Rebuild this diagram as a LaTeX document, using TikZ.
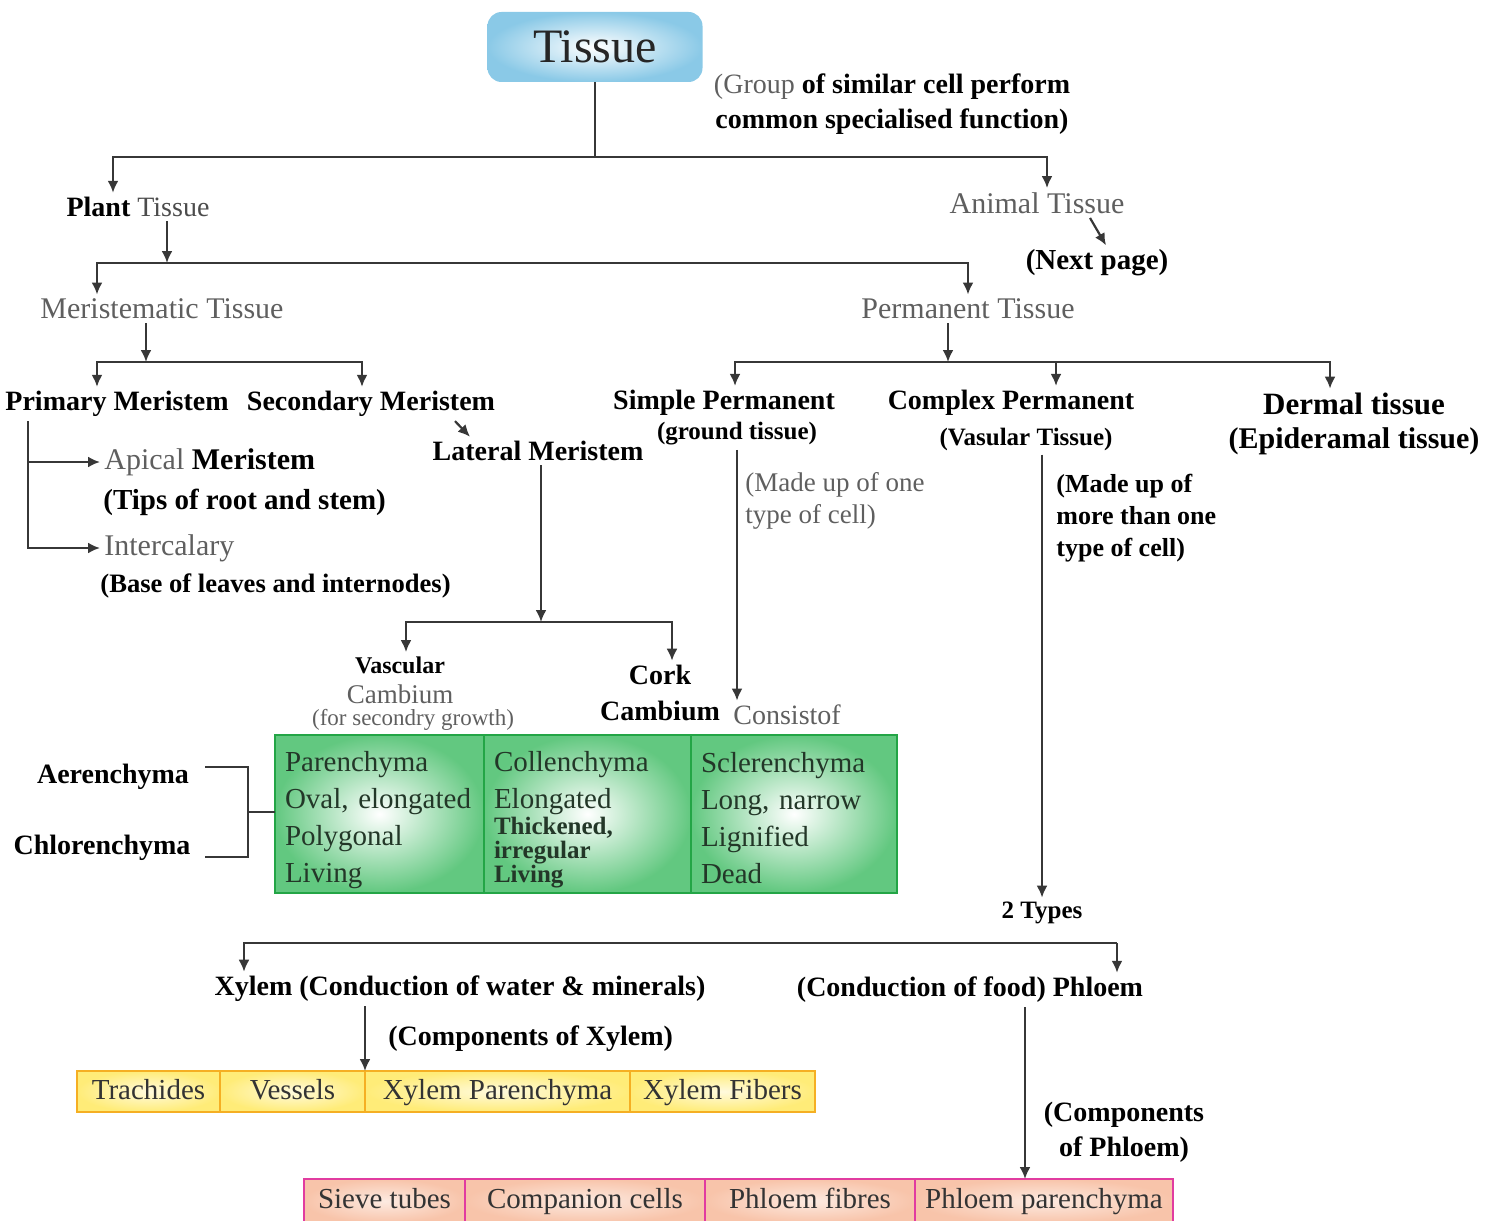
\documentclass[tikz,border=0pt]{standalone}
\usepackage{fontspec}
\setmainfont{Liberation Serif}
\usetikzlibrary{arrows.meta,positioning}
\definecolor{txtgray}{RGB}{95,95,95}
\definecolor{linegray}{RGB}{55,55,55}
\definecolor{tblue}{RGB}{125,195,228}
\definecolor{ggreen}{RGB}{70,190,105}
\definecolor{gborder}{RGB}{35,165,70}
\definecolor{gtext}{RGB}{35,55,40}
\definecolor{yfill}{RGB}{255,236,120}
\definecolor{yborder}{RGB}{245,175,35}
\definecolor{pfill}{RGB}{248,196,170}
\definecolor{pborder}{RGB}{225,60,160}
\tikzset{
  lbl/.style={font=\fontsize{14}{17}\selectfont\bfseries, inner sep=2pt},
  gry/.style={font=\fontsize{15}{18}\selectfont, text=txtgray, inner sep=2pt},
  conn/.style={draw=linegray, line width=1.1pt},
  arr/.style={conn, -{Latex[length=6pt,width=5.5pt]}},
  tbox/.style={rounded corners=7pt, inner color=white, outer color=tblue!90, minimum width=107.5pt, minimum height=35pt, font=\fontsize{24}{28}\selectfont, text=black!85},
  gcell/.style={draw=gborder, line width=1.2pt, inner color=white, outer color=ggreen!85, minimum height=79pt, inner xsep=5pt, inner ysep=0pt, outer sep=0pt, align=left, text=gtext, font=\fontsize{14.5}{18.5}\selectfont, anchor=north west},
  ycell/.style={draw=yborder, line width=1pt, inner color=yfill!25, outer color=yfill, minimum height=20.5pt, inner sep=0pt, outer sep=0pt, text height=10.5pt, text depth=3pt, font=\fontsize{14.5}{17}\selectfont, text=black!80},
  pcell/.style={draw=pborder, line width=1.2pt, inner color=pfill!35, outer color=pfill, minimum height=22pt, inner sep=0pt, outer sep=0pt, text height=10.5pt, text depth=3pt, font=\fontsize{14.5}{17}\selectfont, text=black!80}
}
\newcommand{\cellgap}{\rule{0pt}{16pt}}
\newcommand{\cellend}{\rule[-2pt]{0pt}{2pt}}
\begin{document}
\begin{tikzpicture}[x=0.5pt,y=-0.5pt]
\useasboundingbox (0,0) rectangle (1491,1220); % 画布
% 顶部
\node[tbox] (tissue) at (595,47) {Tissue};
\node[lbl, align=center, font=\fontsize{14}{17.5}\selectfont\bfseries] (grp) at (892,104) {{\mdseries\color{txtgray}(Group} of similar cell perform\\common specialised function)};
\coordinate (t1) at (595,157);
\draw[conn] (tissue.south) -- (t1);
\node[lbl] (plant) at (138,207) {Plant {\mdseries\color{black!70}Tissue}};
\node[gry] (animal) at (1037,203) {Animal Tissue};
\node[lbl, font=\fontsize{14.5}{17}\selectfont\bfseries] (nextpg) at (1097,263) {(Next page)};
\draw[arr] (t1) -| (plant.north -| 113,0);
\draw[arr] (t1) -| (animal.north -| 1047,0);
\draw[arr] (animal.south -| 1090,0) -- (nextpg.north -| 1106,0);
% 植物组织
\coordinate (p1) at (167,263);
\draw[arr] (plant.south -| p1) -- (p1);
\node[gry] (merist) at (162,309) {Meristematic Tissue};
\node[gry] (perm) at (968,309) {Permanent Tissue};
\draw[arr] (p1) -| (merist.north -| 97,0);
\draw[arr] (p1) -| (perm.north -| 968,0);
% 分生组织
\coordinate (m1) at (146,362);
\draw[arr] (merist.south -| m1) -- (m1);
\node[lbl] (primary) at (117,404) {Primary Meristem};
\node[lbl] (secondary) at (371,404) {Secondary Meristem};
\draw[arr] (m1) -| (primary.north -| 97,0);
\draw[arr] (m1) -| (secondary.north -| 362,0);
\node[gry, anchor=west] (apical) at (100,462) {Apical {\bfseries\color{black}Meristem}};
\node[lbl, anchor=west, font=\fontsize{14.5}{17}\selectfont\bfseries] (tips) at (99,502) {(Tips of root and stem)};
\node[gry, anchor=west] (intercal) at (100,548) {Intercalary};
\node[lbl, anchor=west, font=\fontsize{13.3}{16}\selectfont\bfseries] (base) at (96,586) {(Base of leaves and internodes)};
\coordinate (pm) at (28,428);
\draw[arr] (primary.south -| pm) |- (apical.west);
\draw[arr] (primary.south -| pm) |- (intercal.west);
\node[lbl] (lateral) at (538,451) {Lateral Meristem};
\draw[arr] (secondary.south -| 455,0) -- (lateral.north -| 470,0);
\coordinate (l1) at (541,622);
\draw[arr] (lateral.south -| l1) -- (l1);
\node[lbl, font=\fontsize{12}{14}\selectfont\bfseries] (vascular) at (400,665) {Vascular};
\node[gry, inner sep=0pt, font=\fontsize{13.5}{16}\selectfont] (vcamb) at (400,694) {Cambium};
\node[gry, inner sep=0pt, font=\fontsize{11.5}{13}\selectfont] (vgrow) at (413,720) {(for secondry growth)};
\node[lbl, align=center, font=\fontsize{14}{18}\selectfont\bfseries] (cork) at (660,693) {Cork\\Cambium};
\draw[arr] (l1) -| (vascular.north -| 406,0);
\draw[arr] (l1) -| (cork.north -| 672,0);
% 永久组织
\coordinate (q1) at (948,362);
\draw[arr] (perm.south -| q1) -- (q1);
\node[lbl] (simple) at (724,403) {Simple Permanent};
\node[lbl, font=\fontsize{12.5}{15}\selectfont\bfseries] (ground) at (737,434) {(ground tissue)};
\node[lbl] (complex) at (1011,403) {Complex Permanent};
\node[lbl, font=\fontsize{12.5}{15}\selectfont\bfseries] (vasc) at (1026,439) {(Vasular Tissue)};
\node[lbl, font=\fontsize{15.5}{18}\selectfont\bfseries] (dermal) at (1354,404) {Dermal tissue};
\node[lbl, font=\fontsize{15}{18}\selectfont\bfseries] (epid) at (1354,441) {(Epideramal tissue)};
\draw[arr] (q1) -| (simple.north -| 735,0);
\draw[arr] (q1) -| (complex.north -| 1056,0);
\draw[arr] (q1) -| (dermal.north -| 1330,0);
\node[gry, anchor=north west, align=left, font=\fontsize{13.5}{16}\selectfont] (madeone) at (741,468) {(Made up of one\\type of cell)};
\node[gry, anchor=west, font=\fontsize{14}{17}\selectfont] (consist) at (729,715) {Consistof};
\draw[arr] (ground.south -| 737,0) -- (consist.north -| 737,0);
\node[lbl, anchor=north west, align=left, font=\fontsize{13}{16}\selectfont\bfseries] (mademore) at (1052,470) {(Made up of\\more than one\\type of cell)};
\node[lbl, font=\fontsize{12.5}{15}\selectfont\bfseries] (types) at (1042,913) {2 Types};
\draw[arr] (vasc.south -| types) -- (types.north);
% 简单组织表
\node[gcell, text width=94.5pt] (gpar) at (275,735) {\cellgap Parenchyma\\Oval,~elongated\\Polygonal\\Living\cellend};
\node[gcell, text width=93.5pt, right=0pt of gpar] (gcol) {\cellgap Collenchyma\\Elongated\\[-5.5pt]{\fontsize{12.5}{14}\selectfont\bfseries Thickened,}\\[-6.5pt]{\fontsize{12.5}{14}\selectfont\bfseries irregular}\\[-6.5pt]{\fontsize{12.5}{14}\selectfont\bfseries Living}\cellend};
\node[gcell, text width=93pt, right=0pt of gcol] (gscl) {\cellgap Sclerenchyma\\Long,~narrow\\Lignified\\Dead\cellend};
\node[lbl] (aeren) at (113,777) {Aerenchyma};
\node[lbl] (chlor) at (102,848) {Chlorenchyma};
\coordinate (ba) at (205,767);
\coordinate (bc) at (205,857);
\coordinate (bm) at (248,812);
\draw[conn] (ba) -| (bm) |- (bc);
\draw[conn] (bm) -- (gpar.west |- bm);
% 木质部 韧皮部
\coordinate (x2) at (1117,943);
\node[lbl] (xylem) at (460,989) {Xylem (Conduction of water \& minerals)};
\node[lbl] (phloem) at (970,990) {(Conduction of food) Phloem};
\draw[arr] (x2) -| (xylem.north -| 244,0);
\draw[arr] (x2) -- (phloem.north -| x2);
\node[lbl, anchor=west] (compx) at (384,1039) {(Components of Xylem)};
\node[lbl, align=center, font=\fontsize{14}{17.5}\selectfont\bfseries] (compp) at (1124,1132) {(Components\\of Phloem)};
\node[ycell, minimum width=71.5pt, anchor=north west] (ytra) at (77,1071) {Trachides};
\node[ycell, minimum width=72.5pt, right=0pt of ytra] (yves) {Vessels};
\node[ycell, minimum width=132.5pt, right=0pt of yves] (ypar) {Xylem Parenchyma};
\node[ycell, minimum width=92.5pt, right=0pt of ypar] (yfib) {Xylem Fibers};
\node[pcell, minimum width=80.5pt, anchor=north west] (psie) at (304,1179) {Sieve tubes};
\node[pcell, minimum width=120pt, right=0pt of psie] (pcom) {Companion cells};
\node[pcell, minimum width=105pt, right=0pt of pcom] (pfib) {Phloem fibres};
\node[pcell, minimum width=129pt, right=0pt of pfib] (ppar) {Phloem parenchyma};
\draw[arr] (xylem.south -| ypar.north west) -- (ypar.north west);
\draw[arr] (phloem.south -| 1025,0) -- (ppar.north -| 1025,0);
\end{tikzpicture}
\end{document}
